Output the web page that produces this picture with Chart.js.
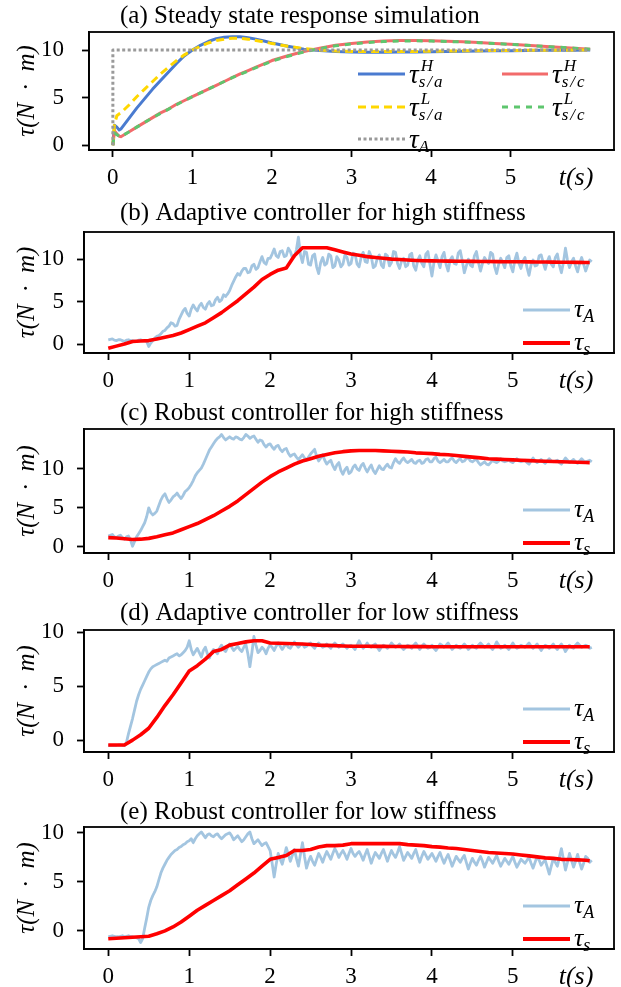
<!DOCTYPE html>
<html><head><meta charset="utf-8">
<script src="https://cdn.jsdelivr.net/npm/chart.js@4.4.0/dist/chart.umd.min.js"></script>
<style>
html,body{margin:0;padding:0;background:#fff;}
#wrap{position:relative;width:621px;height:987px;overflow:hidden;background:#fff;}
canvas{position:absolute;left:0;}
</style></head><body><div id="wrap">
<canvas id="pa" width="621" height="197" style="top:0px"></canvas>
<canvas id="pb" width="621" height="197" style="top:197px"></canvas>
<canvas id="pc" width="621" height="199" style="top:394px"></canvas>
<canvas id="pd" width="621" height="197" style="top:593px"></canvas>
<canvas id="pe" width="621" height="197" style="top:790px"></canvas>
</div>
<script>
// ---------- data ----------
const xTicks = [0, 1, 2, 3, 4, 5];
const yTicks = [0, 5, 10];
const titles = [
  '(a) Steady state response simulation',
  '(b) Adaptive controller for high stiffness',
  '(c) Robust controller for high stiffness',
  '(d) Adaptive controller for low stiffness',
  '(e) Robust controller for low stiffness'
];
const yLabel = 'τ(N\u2002·\u2002m)';
const xLabel = 't(s)';

// (a) simulation
const tSim = [0,0.02,0.05,0.08,0.1,0.2,0.3,0.4,0.5,0.6,0.7,0.8,0.9,1.0,1.1,1.2,1.3,1.4,1.5,1.6,1.7,1.8,1.9,2.0,2.2,2.4,2.6,2.8,3.0,3.2,3.4,3.6,3.8,4.0,4.2,4.4,4.6,4.8,5.0,5.2,5.4,5.6,5.8,6.0];
const tauH_sa = [0,2.1,1.9,1.6,1.7,2.8,3.9,4.9,5.9,6.8,7.7,8.6,9.4,10.0,10.5,10.9,11.2,11.35,11.4,11.4,11.3,11.15,10.95,10.75,10.4,10.1,9.95,9.85,9.8,9.78,9.78,9.79,9.8,9.82,9.85,9.88,9.9,9.92,9.94,9.96,9.97,9.98,9.99,10.0];
const tauL_sa = [0,2.2,3.1,3.3,3.4,4.2,5.1,5.9,6.7,7.5,8.2,8.9,9.5,10.0,10.4,10.75,11.0,11.15,11.25,11.25,11.15,11.0,10.85,10.7,10.4,10.15,10.0,9.9,9.85,9.84,9.84,9.85,9.86,9.87,9.9,9.92,9.94,9.95,9.96,9.97,9.98,9.99,10.0,10.0];
const tauH_sc = [0,1.5,1.2,0.95,0.9,1.4,1.9,2.4,2.9,3.4,3.8,4.3,4.7,5.1,5.5,5.9,6.3,6.7,7.1,7.5,7.85,8.2,8.55,8.9,9.4,9.85,10.2,10.5,10.7,10.85,10.95,11.0,11.0,10.98,10.93,10.87,10.8,10.7,10.6,10.5,10.4,10.3,10.2,10.1];
const tauL_sc = [0,1.3,1.1,0.95,0.9,1.4,1.9,2.4,2.9,3.35,3.8,4.25,4.7,5.1,5.5,5.9,6.3,6.7,7.1,7.45,7.8,8.15,8.5,8.85,9.35,9.8,10.15,10.45,10.65,10.8,10.9,10.95,10.97,10.95,10.9,10.85,10.78,10.7,10.6,10.5,10.4,10.3,10.2,10.1];
const tRef = [0, 0, 6.0];
const tauRef = [0, 10, 10];

// (b)-(e) experiments: measured actuator torque tau_A (fine grid) and spring torque tau_s (coarse grid)
const tExp = [
0,0.025,0.05,0.075,0.1,0.125,0.15,0.175,0.2,0.225,0.25,0.275,0.3,0.325,0.35,0.375,0.4,0.425,0.45,0.475,
0.5,0.525,0.55,0.575,0.6,0.625,0.65,0.675,0.7,0.725,0.75,0.775,0.8,0.825,0.85,0.875,0.9,0.925,0.95,0.975,
1,1.025,1.05,1.075,1.1,1.125,1.15,1.175,1.2,1.225,1.25,1.275,1.3,1.325,1.35,1.375,1.4,1.425,1.45,1.475,
1.5,1.525,1.55,1.575,1.6,1.625,1.65,1.675,1.7,1.725,1.75,1.775,1.8,1.825,1.85,1.875,1.9,1.925,1.95,1.975,
2,2.025,2.05,2.075,2.1,2.125,2.15,2.175,2.2,2.225,2.25,2.275,2.3,2.325,2.35,2.375,2.4,2.425,2.45,2.475,
2.5,2.525,2.55,2.575,2.6,2.625,2.65,2.675,2.7,2.725,2.75,2.775,2.8,2.825,2.85,2.875,2.9,2.925,2.95,2.975,
3,3.025,3.05,3.075,3.1,3.125,3.15,3.175,3.2,3.225,3.25,3.275,3.3,3.325,3.35,3.375,3.4,3.425,3.45,3.475,
3.5,3.525,3.55,3.575,3.6,3.625,3.65,3.675,3.7,3.725,3.75,3.775,3.8,3.825,3.85,3.875,3.9,3.925,3.95,3.975,
4,4.025,4.05,4.075,4.1,4.125,4.15,4.175,4.2,4.225,4.25,4.275,4.3,4.325,4.35,4.375,4.4,4.425,4.45,4.475,
4.5,4.525,4.55,4.575,4.6,4.625,4.65,4.675,4.7,4.725,4.75,4.775,4.8,4.825,4.85,4.875,4.9,4.925,4.95,4.975,
5,5.025,5.05,5.075,5.1,5.125,5.15,5.175,5.2,5.225,5.25,5.275,5.3,5.325,5.35,5.375,5.4,5.425,5.45,5.475,
5.5,5.525,5.55,5.575,5.6,5.625,5.65,5.675,5.7,5.725,5.75,5.775,5.8,5.825,5.85,5.875,5.9,5.925,5.95,5.975];
const tCtl = [0,0.1,0.2,0.3,0.4,0.5,0.6,0.7,0.8,0.9,1.0,1.1,1.2,1.3,1.4,1.5,1.6,1.7,1.8,1.9,2.0,2.1,2.2,2.3,2.4,2.5,2.6,2.7,2.8,2.9,3.0,3.1,3.2,3.3,3.4,3.5,3.6,3.7,3.8,3.9,4.0,4.1,4.2,4.3,4.4,4.5,4.6,4.7,4.8,4.9,5.0,5.1,5.2,5.3,5.4,5.5,5.6,5.7,5.8,5.9,5.95];

const tauA_b = [
0.5,0.55,0.6,0.45,0.4,0.5,0.5,0.4,0.3,0.45,0.5,0.4,0.4,0.35,0.3,0.45,0.5,0.4,0.4,0.3,
-0.3,0.1,0.4,0.7,0.9,1.0,1.2,1.5,1.6,1.9,2.1,2.5,2.4,2.1,2.2,2.9,3.4,3.9,4.2,3.6,
3.3,4.1,4.6,4.2,3.9,4.5,4.8,4.3,4.1,4.7,5.0,4.5,4.6,5.2,5.5,5.0,5.2,5.8,5.6,5.9,
6.3,6.9,7.4,7.9,8.3,8.1,8.6,8.9,8.9,8.4,8.5,9.2,9.4,8.8,9.0,9.7,10.3,9.6,9.4,10.1,
10.1,10.6,11.2,10.4,10.2,10.9,11.0,10.3,10.4,11.3,10.9,10.2,10.3,11.1,12.6,10.5,9.6,10.9,10.8,9.4,
9.3,10.4,10.6,9.1,8.3,9.6,10.2,9.3,9.5,10.6,10.4,9.0,9.2,10.3,9.9,9.1,9.4,10.5,10.2,9.3,
9.5,10.7,10.6,9.4,9.1,10.2,10.8,9.7,9.6,10.9,10.3,9.0,9.2,10.1,10.5,9.3,9.0,10.6,10.4,9.2,
9.6,10.9,10.8,9.5,8.9,9.8,10.1,9.1,9.3,10.5,10.7,9.2,8.7,9.9,10.4,9.5,9.1,10.6,10.9,9.4,
8.0,9.6,10.5,9.8,9.0,10.3,10.8,9.4,8.6,9.9,10.3,9.5,9.4,10.7,11.0,9.8,8.4,9.2,10.0,9.3,
9.1,10.4,10.9,9.6,8.6,9.5,10.2,9.8,9.5,10.8,10.6,9.1,8.3,9.4,10.1,9.6,9.0,10.2,10.4,9.2,
8.5,9.9,10.7,9.5,8.9,9.8,10.2,9.0,8.1,9.3,9.9,9.2,9.3,10.4,10.5,9.6,8.8,9.7,10.3,9.4,
9.1,10.2,10.6,9.3,8.4,9.6,11.3,9.9,9.0,9.7,10.1,9.2,8.5,9.5,10.2,9.4,8.6,9.3,9.9,9.7];
const tauS_b = [-0.5,-0.25,0.0,0.3,0.35,0.4,0.6,0.8,1.0,1.3,
1.7,2.1,2.5,3.1,3.7,4.4,5.1,5.9,6.7,7.6,
8.2,8.7,8.95,10.4,11.35,11.35,11.35,11.35,11.1,10.85,
10.6,10.45,10.3,10.2,10.1,10.0,9.95,9.9,9.85,9.82,
9.8,9.78,9.77,9.76,9.75,9.74,9.73,9.72,9.71,9.7,
9.7,9.69,9.68,9.67,9.66,9.65,9.64,9.63,9.62,9.6,
9.6];

const tauA_c = [
1.4,1.5,1.6,1.3,1.2,1.4,1.5,1.2,1.0,1.3,1.4,0.9,0.1,0.7,1.3,1.7,2.1,2.6,3.1,3.9,
5.0,4.4,4.1,4.3,4.6,5.3,6.0,6.5,6.8,6.2,5.7,6.0,6.4,6.6,6.9,6.5,6.2,6.6,7.1,7.3,
7.6,8.0,8.5,9.1,9.5,9.8,10.1,10.6,11.2,11.8,12.4,12.8,13.2,13.6,13.9,14.1,14.4,14.0,13.7,13.9,
14.1,13.9,13.8,14.1,14.0,13.8,13.7,14.0,14.4,14.2,13.9,14.1,14.2,13.8,13.4,13.7,13.6,13.1,12.8,13.1,
13.2,12.8,12.5,12.9,13.0,12.5,12.2,12.5,12.6,12.0,11.6,11.8,11.9,11.5,11.2,11.5,11.8,11.4,11.1,11.5,
11.9,12.2,12.5,11.6,11.0,11.4,11.8,11.1,10.6,10.9,11.1,10.4,9.9,10.5,10.8,9.8,9.3,9.9,10.2,9.4,
9.6,10.2,10.5,10.0,9.8,10.4,10.7,10.1,9.6,10.1,10.5,9.8,9.4,9.9,10.4,10.0,9.9,10.3,10.6,10.2,
10.1,10.8,11.3,10.9,10.7,11.1,11.4,11.0,10.8,11.0,11.2,10.8,10.7,11.0,11.1,10.7,10.8,11.2,11.3,10.9,
10.9,11.3,11.5,11.0,10.8,11.0,11.2,10.9,10.9,11.2,11.4,11.0,10.8,11.1,11.3,10.9,11.0,11.3,11.4,11.0,
10.9,11.1,11.2,10.8,10.5,10.7,10.9,10.6,10.5,10.8,11.1,10.9,10.8,11.0,11.3,11.0,10.9,11.0,11.2,10.9,
10.8,11.1,11.3,11.0,10.9,11.0,11.1,10.8,10.6,11.0,11.4,11.0,10.8,11.0,11.2,10.9,10.7,11.0,11.3,11.0,
10.9,11.0,11.1,10.8,10.6,11.0,11.4,11.1,10.8,11.0,11.2,10.9,10.7,11.0,11.3,11.0,10.9,11.0,11.1,10.9];
const tauS_c = [1.2,1.15,1.05,0.95,1.0,1.1,1.3,1.55,1.8,2.2,
2.6,3.0,3.5,4.0,4.6,5.2,5.9,6.7,7.5,8.3,
9.0,9.6,10.1,10.6,11.0,11.3,11.6,11.85,12.05,12.2,
12.3,12.35,12.35,12.35,12.3,12.25,12.2,12.15,12.05,12.0,
11.95,11.85,11.8,11.7,11.6,11.5,11.4,11.3,11.25,11.2,
11.15,11.1,11.05,11.0,10.97,10.95,10.9,10.87,10.85,10.82,
10.8];

const tauA_d = [
-0.5,-0.5,-0.5,-0.5,-0.5,-0.45,-0.45,-0.5,-0.5,-0.2,0.6,1.3,2.0,2.8,3.6,4.2,4.7,5.1,5.5,5.9,
6.3,6.6,6.8,6.9,7.0,7.1,7.2,7.3,7.4,7.3,7.6,7.7,7.8,7.9,8.0,7.8,7.9,8.1,8.3,8.6,
9.2,8.4,7.9,8.2,8.5,8.1,7.7,8.3,8.6,8.0,7.6,8.1,8.4,8.2,8.0,8.5,8.8,8.4,8.2,8.6,
8.9,8.6,8.3,8.5,8.7,8.4,8.2,8.6,8.9,8.0,6.8,8.1,9.6,8.8,8.1,8.3,8.6,8.4,8.0,8.5,
8.8,8.6,8.3,8.7,9.0,8.7,8.4,8.7,8.9,8.6,8.5,8.8,9.1,8.8,8.6,8.8,8.9,8.6,8.7,8.9,
9.0,8.7,8.5,8.8,9.0,8.8,8.6,8.7,8.9,8.7,8.5,8.8,9.0,8.8,8.6,8.8,8.9,8.7,8.5,8.7,
8.8,8.6,8.4,8.8,9.2,8.8,8.5,8.7,9.0,8.7,8.6,8.8,8.9,8.6,8.3,8.6,8.8,8.7,8.5,8.7,
9.0,8.8,8.6,8.7,8.9,8.6,8.4,8.6,8.8,8.7,8.5,8.8,9.0,8.7,8.4,8.7,8.9,8.7,8.5,8.6,
8.8,8.5,8.3,8.6,8.9,8.8,8.6,8.8,9.0,8.7,8.4,8.6,8.8,8.6,8.5,8.7,8.9,8.7,8.4,8.6,
8.8,8.6,8.5,8.8,9.0,8.8,8.6,8.7,8.9,8.6,8.4,8.7,9.1,8.8,8.5,8.6,8.8,8.6,8.4,8.7,
9.0,8.7,8.5,8.6,8.8,8.7,8.6,8.8,9.0,8.7,8.5,8.7,8.9,8.6,8.3,8.6,8.8,8.7,8.5,8.7,
8.9,8.6,8.4,8.7,8.9,8.6,8.2,8.5,8.8,8.6,8.5,8.8,9.0,8.8,8.6,8.7,8.8,8.7,8.5,8.6];
const tauS_d = [-0.45,-0.45,-0.45,0.0,0.5,1.1,2.1,3.2,4.2,5.3,
6.4,6.9,7.5,8.2,8.4,8.8,8.95,9.1,9.2,9.2,
9.0,8.97,8.95,8.92,8.9,8.85,8.8,8.78,8.75,8.72,
8.7,8.7,8.69,8.68,8.68,8.67,8.67,8.66,8.66,8.66,
8.65,8.65,8.65,8.65,8.65,8.65,8.65,8.65,8.65,8.65,
8.65,8.65,8.65,8.65,8.65,8.65,8.65,8.65,8.65,8.65,
8.65];

const tauA_e = [
-0.6,-0.55,-0.5,-0.55,-0.6,-0.6,-0.55,-0.5,-0.6,-0.55,-0.5,-0.6,-0.6,-0.65,-0.7,-0.8,-1.2,-0.8,0.3,1.3,
2.4,3.1,3.6,4.0,4.5,5.2,5.9,6.4,6.8,7.2,7.5,7.8,8.0,8.2,8.3,8.5,8.6,8.8,8.9,9.1,
9.2,9.4,9.0,9.4,9.7,9.9,10.1,9.8,9.5,9.8,9.9,9.7,9.6,9.8,9.9,9.6,9.4,9.6,9.8,9.9,
10.0,9.7,9.3,9.5,9.7,9.4,9.1,9.3,9.6,9.9,10.1,9.4,8.9,9.1,9.3,9.0,8.7,8.9,9.0,8.6,
8.2,6.9,5.5,6.8,7.9,7.3,6.8,7.6,8.5,7.8,7.1,7.7,8.3,7.4,6.6,7.8,9.0,7.6,6.4,7.1,
7.6,7.1,6.7,7.3,7.9,7.5,7.0,7.6,8.1,7.7,7.3,7.9,8.4,8.0,7.5,7.9,8.2,7.8,7.3,7.9,
8.4,7.9,7.6,7.9,8.1,7.7,7.2,7.8,8.3,7.6,6.9,7.5,8.0,7.7,7.4,7.9,8.3,7.7,7.1,7.7,
8.2,7.8,7.5,8.0,8.6,7.9,7.2,7.6,8.0,7.7,7.4,7.9,8.3,7.6,7.0,7.6,8.1,7.7,7.3,7.6,
7.9,7.5,7.1,7.6,8.0,7.4,6.9,7.4,7.8,7.2,6.6,7.1,7.6,7.3,7.0,7.4,7.7,7.0,6.3,6.9,
7.4,7.0,6.7,7.2,7.6,7.1,6.5,7.0,7.5,7.2,6.9,7.3,7.7,7.1,6.6,7.0,7.4,7.1,6.8,7.2,
7.6,7.0,6.5,6.9,7.3,7.1,6.9,7.2,7.5,6.9,6.4,7.0,7.6,7.2,6.7,7.0,7.2,6.5,5.8,6.6,
7.4,7.0,6.6,7.5,8.4,7.3,6.2,7.0,7.9,7.2,6.5,7.1,7.8,7.0,6.3,6.9,7.6,7.4,7.0,7.2];
const tauS_e = [-0.8,-0.75,-0.7,-0.65,-0.6,-0.55,-0.3,0.0,0.4,0.9,
1.5,2.1,2.6,3.1,3.6,4.1,4.7,5.3,5.9,6.6,
7.3,7.5,7.7,8.2,8.2,8.3,8.55,8.7,8.7,8.75,
8.9,8.9,8.9,8.9,8.9,8.9,8.9,8.8,8.75,8.7,
8.6,8.55,8.45,8.4,8.3,8.2,8.1,8.0,7.95,7.9,
7.85,7.75,7.65,7.55,7.45,7.4,7.3,7.28,7.25,7.2,
7.15];

// ---------- styling / layout ----------
const SERIF = '"Liberation Serif", "Times New Roman", serif';
const TITLE_PX = 25, TICK_PX = 23;
const C_BLUE = '#4a7bd0', C_YEL = '#ffd700', C_SALMON = '#f26b6b', C_GREEN = '#5ec66e', C_GRAY = '#9a9a9a';
const C_LIGHT = '#a3c5e0', C_RED = '#ff0000';

const pts = (xs, ys) => xs.map((x, i) => ({x, y: ys[i]}));

function mathLabel(ctx, x, y, sup, sub, f) {
  ctx.fillStyle = '#000';
  ctx.textAlign = 'left';
  ctx.textBaseline = 'alphabetic';
  ctx.font = `italic ${f.base}px ${SERIF}`;
  ctx.fillText('τ', x, y + f.baseOff);
  const w = ctx.measureText('τ').width;
  ctx.font = `italic ${f.small}px ${SERIF}`;
  if (sup) ctx.fillText(sup, x + w + f.supDx, y + f.supOff);
  if (sub) {
    let xx = x + w + f.subDx;
    for (const ch of sub) { ctx.fillText(ch, xx, y + f.subOff); xx += ctx.measureText(ch).width + f.gap; }
  }
}

const deco = {
  id: 'deco',
  afterLayout(chart, args, o) {
    if (chart.titleBlock) { chart.titleBlock.left = o.titleLeft; chart.titleBlock.right = o.titleLeft + 560; }
  },
  afterDraw(chart, args, o) {
    const {ctx, chartArea: a} = chart;
    ctx.save();
    ctx.strokeStyle = '#000'; ctx.lineWidth = 1.8;
    ctx.strokeRect(a.left, a.top, a.right - a.left, a.bottom - a.top);
    ctx.fillStyle = '#000'; ctx.font = `italic 26px ${SERIF}`;
    ctx.textAlign = 'center'; ctx.textBaseline = 'middle';
    ctx.fillText(xLabel, o.xlabX, a.bottom + o.xlabDy);
    for (const e of o.legend) {
      const y = e.fromBottom ? a.bottom - e.dy : a.top + e.dy;
      ctx.save();
      ctx.strokeStyle = e.color; ctx.lineWidth = e.width; ctx.setLineDash(e.dash || []); ctx.lineCap = 'butt';
      ctx.beginPath(); ctx.moveTo(e.x1, y); ctx.lineTo(e.x2, y); ctx.stroke();
      ctx.restore();
      mathLabel(ctx, e.x2 + 4, y, e.sup, e.sub, o.font);
    }
    ctx.restore();
  }
};

function makeChart(id, P) {
  const lh = TITLE_PX * 1.2;
  return new Chart(document.getElementById(id), {
    type: 'line',
    data: {datasets: P.datasets},
    plugins: [deco],
    options: {
      responsive: false, animation: false, events: [],
      layout: {padding: {left: 0, right: 7, top: 0, bottom: 0}},
      elements: {point: {radius: 0}, line: {tension: 0, borderJoinStyle: 'round'}},
      plugins: {
        legend: {display: false}, tooltip: {enabled: false},
        title: {display: true, text: P.title, align: 'start', color: '#000',
          font: {family: SERIF, size: TITLE_PX, weight: 'normal'},
          padding: {top: Math.max(0, P.titleC - lh / 2), bottom: Math.max(0, P.chartTop - P.titleC - lh / 2)}},
        deco: {titleLeft: 120, xlabX: 576, xlabDy: 28, legend: P.legend, font: P.lfont}
      },
      scales: {
        x: {type: 'linear', min: -0.30, max: P.xmax,
          afterBuildTicks: s => { s.ticks = xTicks.map(v => ({value: v})); },
          afterFit: s => { s.height = P.H - P.chartBottom; },
          grid: {drawOnChartArea: false, drawTicks: true, tickLength: 7, tickWidth: 1.8, tickColor: '#000'},
          border: {display: true, color: '#000', width: 1.8},
          ticks: {color: '#000', font: {family: SERIF, size: TICK_PX}, padding: 7.2, maxRotation: 0, autoSkip: false}
        },
        y: {type: 'linear', min: P.ymin, max: P.ymax,
          afterBuildTicks: s => { s.ticks = yTicks.map(v => ({value: v})); },
          afterFit: s => { s.width = P.left; },
          grid: {drawOnChartArea: false, drawTicks: true, tickLength: 7, tickWidth: 1.8, tickColor: '#000'},
          border: {display: true, color: '#000', width: 1.8},
          ticks: {color: '#000', font: {family: SERIF, size: TICK_PX}, padding: P.left - 7 - 64, autoSkip: false},
          title: {display: true, text: yLabel, color: '#000', font: {family: SERIF, size: 25, style: 'italic'}, padding: {top: 12, bottom: 0}}
        }
      }
    }
  });
}

const lfA = {base: 27, small: 17, baseOff: 9, supOff: -3, subOff: 12.5, supDx: 2, subDx: 0, gap: 2};
const lfB = {base: 26, small: 18, baseOff: 7, supOff: 0, subOff: 11.5, supDx: 1, subDx: 0, gap: 1};

function expLegend() {
  return [
    {x1: 523, x2: 570, dy: 43, fromBottom: true, color: C_LIGHT, width: 3.2, sub: 'A'},
    {x1: 523, x2: 570, dy: 10, fromBottom: true, color: C_RED, width: 3.8, sub: 's'}
  ];
}
function expSets(a, s) {
  return [
    {data: pts(tCtl, s), borderColor: C_RED, borderWidth: 3.6, order: 0},
    {data: pts(tExp, a), borderColor: C_LIGHT, borderWidth: 2.8, order: 1}
  ];
}

makeChart('pa', {
  title: titles[0], H: 197, titleC: 16, chartTop: 32, chartBottom: 150, left: 89,
  xmax: 6.30, ymin: -0.5, ymax: 11.9, lfont: lfA,
  datasets: [
    {data: pts(tRef, tauRef), borderColor: C_GRAY, borderWidth: 3, borderDash: [3, 2.5], order: 0},
    {data: pts(tSim, tauL_sc), borderColor: C_GREEN, borderWidth: 3, borderDash: [6, 6], order: 1},
    {data: pts(tSim, tauL_sa), borderColor: C_YEL, borderWidth: 3, borderDash: [8, 5], order: 2},
    {data: pts(tSim, tauH_sc), borderColor: C_SALMON, borderWidth: 3, order: 3},
    {data: pts(tSim, tauH_sa), borderColor: C_BLUE, borderWidth: 3, order: 4}
  ],
  legend: [
    {x1: 358, x2: 405, dy: 42, color: C_BLUE, width: 3, sup: 'H', sub: 's/a'},
    {x1: 358, x2: 405, dy: 75, color: C_YEL, width: 3, dash: [8, 5], sup: 'L', sub: 's/a'},
    {x1: 358, x2: 405, dy: 107, color: C_GRAY, width: 3, dash: [3, 2.5], sub: 'A'},
    {x1: 502, x2: 548, dy: 42, color: C_SALMON, width: 3, sup: 'H', sub: 's/c'},
    {x1: 502, x2: 548, dy: 75, color: C_GREEN, width: 3, dash: [6, 6], sup: 'L', sub: 's/c'}
  ]
});
makeChart('pb', {title: titles[1], H: 197, titleC: 16, chartTop: 35, chartBottom: 156, left: 84,
  xmax: 6.25, ymin: -1.06, ymax: 13.2, lfont: lfB, datasets: expSets(tauA_b, tauS_b), legend: expLegend()});
makeChart('pc', {title: titles[2], H: 199, titleC: 19, chartTop: 35, chartBottom: 159, left: 84,
  xmax: 6.25, ymin: -0.77, ymax: 15.1, lfont: lfB, datasets: expSets(tauA_c, tauS_c), legend: expLegend()});
makeChart('pd', {title: titles[3], H: 197, titleC: 20, chartTop: 37, chartBottom: 159, left: 84,
  xmax: 6.25, ymin: -1.1, ymax: 10.2, lfont: lfB, datasets: expSets(tauA_d, tauS_d), legend: expLegend()});
makeChart('pe', {title: titles[4], H: 197, titleC: 22, chartTop: 37, chartBottom: 159, left: 84,
  xmax: 6.25, ymin: -1.85, ymax: 10.6, lfont: lfB, datasets: expSets(tauA_e, tauS_e), legend: expLegend()});
</script>
</body></html>
